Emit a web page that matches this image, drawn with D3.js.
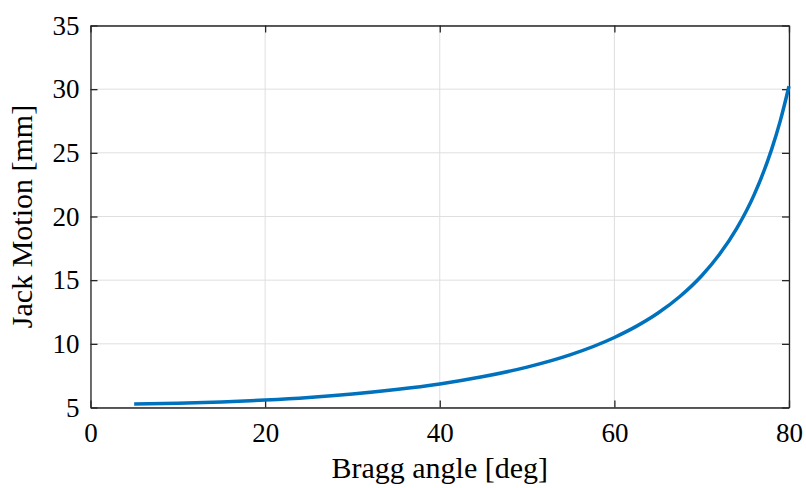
<!DOCTYPE html>
<html>
<head>
<meta charset="utf-8">
<script src="https://cdn.jsdelivr.net/npm/d3@7"></script>
<style>
  body { margin: 0; background: #fff; }
  text { font-family: "Liberation Serif", "DejaVu Serif", serif; fill: #000; }
</style>
</head>
<body>
<div id="chart"></div>
<script>
// Bragg angle [deg]
var angles = [5, 10, 15, 20, 25, 30, 35, 40, 45, 50, 55, 60, 62.5, 65, 67.5, 70, 72, 74, 76, 78, 79, 80];
// Jack Motion [mm]
var motion = [5.27, 5.33, 5.44, 5.59, 5.79, 6.06, 6.41, 6.85, 7.43, 8.17, 9.15, 10.5, 11.37, 12.42, 13.72, 15.35, 16.99, 19.05, 21.7, 25.25, 27.51, 30.23];
var xTicks = [0, 20, 40, 60, 80];
var yTicks = [5, 10, 15, 20, 25, 30, 35];

var width = 806;
var height = 488;
var plotL = 90.5, plotR = 789, plotT = 25.5, plotB = 407.5;

var svg = d3.select("#chart")
    .append("svg")
    .attr("width", width)
    .attr("height", height);

var xScale = d3.scaleLinear().domain([0, 80]).range([plotL, plotR]);
var yScale = d3.scaleLinear().domain([5, 35]).range([plotB, plotT]);

// grid
svg.append("g")
    .selectAll("line")
    .data(xTicks)
    .enter()
    .append("line")
    .attr("x1", function(d) { return xScale(d); })
    .attr("x2", function(d) { return xScale(d); })
    .attr("y1", plotT)
    .attr("y2", plotB)
    .attr("stroke", "#dfdfdf")
    .attr("stroke-width", 1);

svg.append("g")
    .selectAll("line")
    .data(yTicks)
    .enter()
    .append("line")
    .attr("x1", plotL)
    .attr("x2", plotR)
    .attr("y1", function(d) { return yScale(d); })
    .attr("y2", function(d) { return yScale(d); })
    .attr("stroke", "#dfdfdf")
    .attr("stroke-width", 1);

// axes with inward ticks
var tickLen = 7;
var xAxis = d3.axisBottom(xScale).tickValues(xTicks).tickSizeInner(-tickLen).tickSizeOuter(0).tickPadding(15);
var yAxis = d3.axisLeft(yScale).tickValues(yTicks).tickSizeInner(-tickLen).tickSizeOuter(0).tickPadding(11);
var xTop = d3.axisTop(xScale).tickValues(xTicks).tickSizeInner(-tickLen).tickSizeOuter(0).tickFormat("");
var yRight = d3.axisRight(yScale).tickValues(yTicks).tickSizeInner(-tickLen).tickSizeOuter(0).tickFormat("");

function styleAxis(g) {
    g.select(".domain").attr("stroke", "#262626").attr("stroke-width", 1.3);
    g.selectAll(".tick line").attr("stroke", "#262626").attr("stroke-width", 1.3);
    g.selectAll(".tick text").attr("font-size", 27).attr("fill", "#000")
        .style("font-family", "'Liberation Serif', serif");
}

svg.append("g").attr("transform", "translate(0," + plotB + ")").call(xAxis).call(styleAxis);
svg.append("g").attr("transform", "translate(" + plotL + ",0)").call(yAxis).call(styleAxis);
svg.append("g").attr("transform", "translate(0," + plotT + ")").call(xTop).call(styleAxis);
svg.append("g").attr("transform", "translate(" + plotR + ",0)").call(yRight).call(styleAxis);

// curve
var line = d3.line()
    .x(function(d, i) { return xScale(angles[i]); })
    .y(function(d) { return yScale(d); })
    .curve(d3.curveMonotoneX);

svg.append("path")
    .datum(motion)
    .attr("d", line)
    .attr("fill", "none")
    .attr("stroke", "#0072BD")
    .attr("stroke-width", 3.5);

// labels
svg.append("text")
    .attr("x", (plotL + plotR) / 2)
    .attr("y", 478)
    .attr("text-anchor", "middle")
    .attr("font-size", 30)
    .text("Bragg angle [deg]");

svg.append("text")
    .attr("transform", "translate(32," + ((plotT + plotB) / 2) + ")rotate(-90)")
    .attr("text-anchor", "middle")
    .attr("font-size", 30)
    .text("Jack Motion [mm]");
</script>
</body>
</html>
